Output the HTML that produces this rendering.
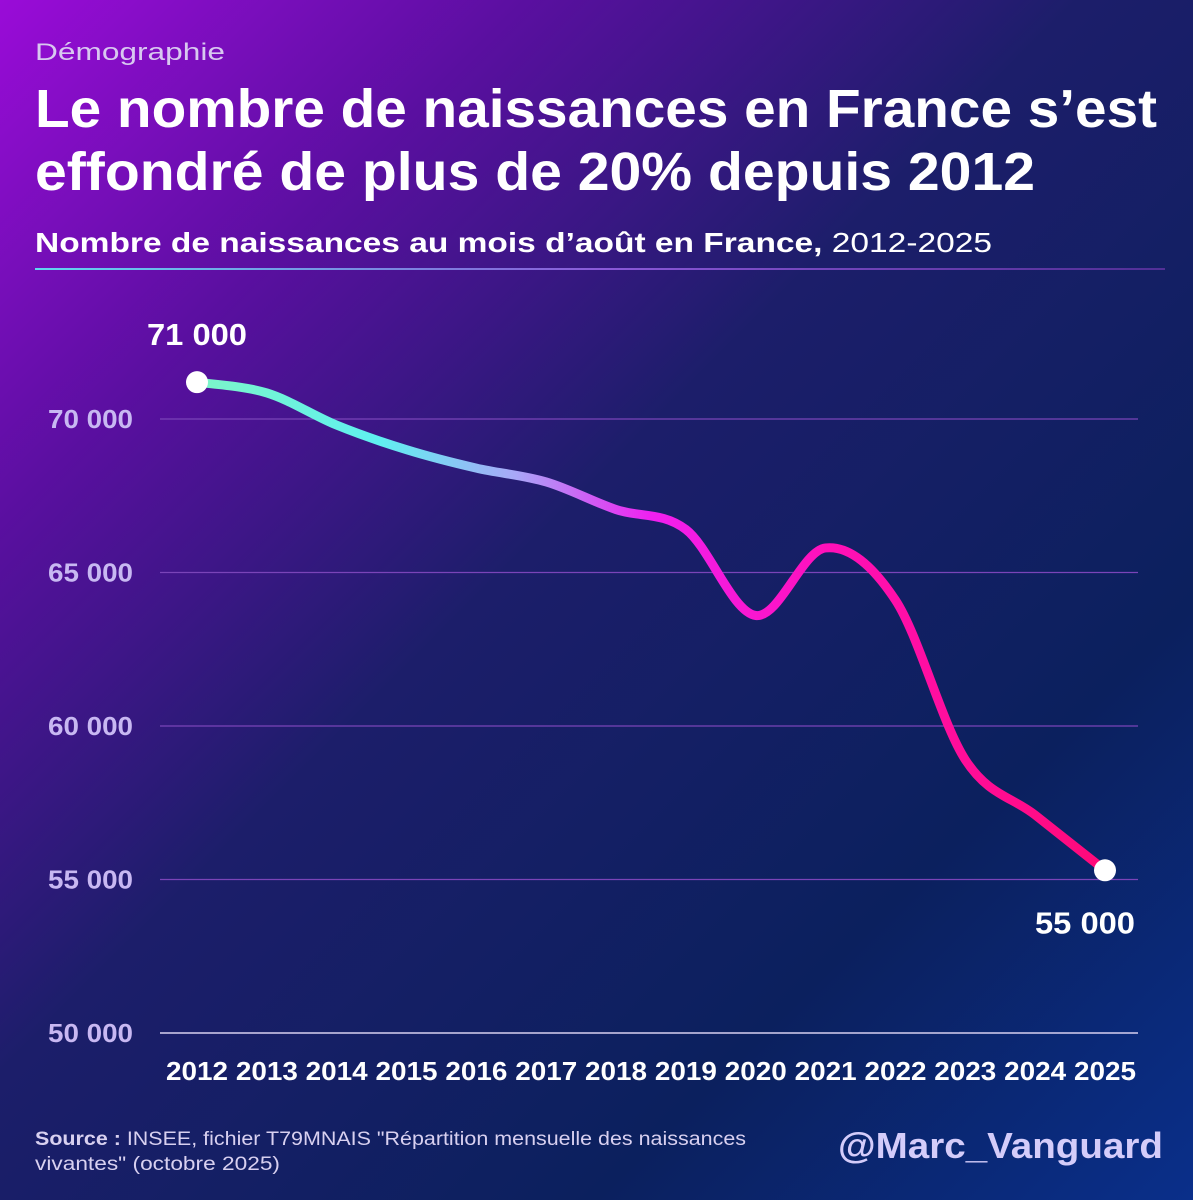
<!DOCTYPE html>
<html><head><meta charset="utf-8"><style>
html,body{margin:0;padding:0;width:1193px;height:1200px;overflow:hidden;background:#0c1f5e}
svg{display:block;font-family:"Liberation Sans",sans-serif}
</style></head><body>
<svg id="chart" width="1193" height="1200" viewBox="0 0 1193 1200">
<defs>
<linearGradient id="bg" x1="0" y1="0" x2="1193" y2="1200" gradientUnits="userSpaceOnUse">
<stop offset="0" stop-color="#9a0cd8"/><stop offset="0.22" stop-color="#5a0fa0"/><stop offset="0.45" stop-color="#1c1e6a"/><stop offset="0.75" stop-color="#0b205e"/><stop offset="1" stop-color="#0a2f8a"/>
</linearGradient>
<linearGradient id="sep" x1="35" y1="0" x2="1165" y2="0" gradientUnits="userSpaceOnUse">
<stop offset="0" stop-color="#5fd8f0"/><stop offset="0.5" stop-color="#8a5ad8"/><stop offset="1" stop-color="#7a3ab8" stop-opacity="0.6"/>
</linearGradient>
<linearGradient id="lineGrad" x1="197" y1="0" x2="1105" y2="0" gradientUnits="userSpaceOnUse">
<stop offset="0" stop-color="#7df5c8"/><stop offset="0.2" stop-color="#5ff0f0"/><stop offset="0.35" stop-color="#a8a8f8"/><stop offset="0.5" stop-color="#f020f0"/><stop offset="0.7" stop-color="#ff10b8"/><stop offset="1" stop-color="#ff0a78"/>
</linearGradient>
</defs>
<rect width="1193" height="1200" fill="url(#bg)"/>
<text x="35" y="60" font-size="24" fill="#d8c8f0" textLength="190" lengthAdjust="spacingAndGlyphs">Démographie</text>
<text x="35" y="127" font-size="54" font-weight="bold" fill="#fff" textLength="1122" lengthAdjust="spacingAndGlyphs">Le nombre de naissances en France s’est</text>
<text x="35" y="190" font-size="54" font-weight="bold" fill="#fff" textLength="1000" lengthAdjust="spacingAndGlyphs">effondré de plus de 20% depuis 2012</text>
<text x="35" y="252" font-size="28" fill="#fff" textLength="957" lengthAdjust="spacingAndGlyphs"><tspan font-weight="bold">Nombre de naissances au mois d’août en France,</tspan> 2012-2025</text>
<rect x="35" y="268" width="1130" height="2" fill="url(#sep)"/>
<g id="grid"></g><g id="plot"></g>
<text x="35" y="1145" font-size="19" fill="#d8d0f0" textLength="711" lengthAdjust="spacingAndGlyphs"><tspan font-weight="bold">Source :</tspan> INSEE, fichier T79MNAIS "Répartition mensuelle des naissances</text>
<text x="35" y="1170" font-size="19" fill="#d8d0f0" textLength="245" lengthAdjust="spacingAndGlyphs">vivantes" (octobre 2025)</text>
<text x="1163" y="1158" font-size="36" font-weight="bold" fill="#d4ccfa" text-anchor="end" textLength="325" lengthAdjust="spacingAndGlyphs">@Marc_Vanguard</text>
</svg>
<script>
const years=[2012,2013,2014,2015,2016,2017,2018,2019,2020,2021,2022,2023,2024,2025];
const births=[71200,70850,69800,69000,68400,67950,67050,66400,63600,65800,64100,58900,57100,55300];
const yTicks=[50000,55000,60000,65000,70000];
const yTickLabels=["50 000","55 000","60 000","65 000","70 000"];
const annotations=["71 000","55 000"];
const NS="http://www.w3.org/2000/svg";
function xs(i){return 197+i*(1105-197)/(years.length-1);}
function ys(v){return 1033-(v-50000)*(1033-419)/20000;}
function mk(tag,attrs,parent,txt){const e=document.createElementNS(NS,tag);for(const k in attrs)e.setAttribute(k,attrs[k]);if(txt!==undefined)e.textContent=txt;parent.appendChild(e);return e;}
const grid=document.getElementById('grid'),plot=document.getElementById('plot');
yTicks.forEach((t,i)=>{
 const l=mk('line',{x1:160,x2:1138,y1:ys(t),y2:ys(t),stroke:i===0?'#d8d0f0':'#7a44b8','stroke-width':i===0?1.5:1.2},grid);
 
 
 const tx=mk('text',{x:133,y:ys(t)+9,'text-anchor':'end','font-size':26,'font-weight':'bold',fill:'#c8b8f2',textLength:85,lengthAdjust:'spacingAndGlyphs'},grid,yTickLabels[i]);
 
 
});
years.forEach((y,i)=>{
 const tx=mk('text',{x:xs(i),y:1080,'text-anchor':'middle','font-size':26,'font-weight':'bold',fill:'#fff',textLength:62,lengthAdjust:'spacingAndGlyphs'},grid,String(y));
 
 
});
const pts=births.map((v,i)=>[xs(i),ys(v)]);
let d='M'+pts[0][0]+','+pts[0][1];
for(let i=0;i<pts.length-1;i++){
 const p0=pts[Math.max(0,i-1)],p1=pts[i],p2=pts[i+1],p3=pts[Math.min(pts.length-1,i+2)];
 const c1=[p1[0]+(p2[0]-p0[0])/6,p1[1]+(p2[1]-p0[1])/6],c2=[p2[0]-(p3[0]-p1[0])/6,p2[1]-(p3[1]-p1[1])/6];
 d+=' C'+c1+' '+c2+' '+p2;
}
const path=mk('path',{d:d,fill:'none',stroke:'url(#lineGrad)','stroke-width':9,'stroke-linecap':'round'},plot);


[0,pts.length-1].forEach((i,k)=>{
 const c=mk('circle',{cx:pts[i][0],cy:pts[i][1],r:11,fill:'#fff'},plot);
 
 
 const t=mk('text',{x:k===0?pts[i][0]:pts[i][0]-20,y:k===0?pts[i][1]-37:pts[i][1]+63,'text-anchor':'middle','font-size':31,'font-weight':'bold',fill:'#fff',textLength:100,lengthAdjust:'spacingAndGlyphs'},plot,annotations[k]);
 
 
});
</script>
</body></html>
